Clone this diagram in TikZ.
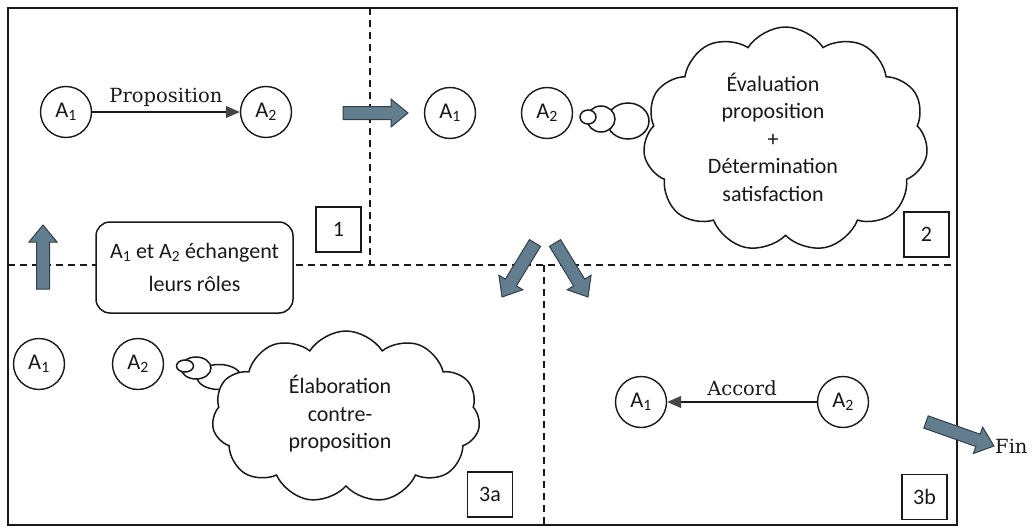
\documentclass[tikz,border=0pt]{standalone}
\usepackage{fontspec}
\setmainfont{Carlito}
\newfontfamily\slabserif{DejaVu Serif}
\usetikzlibrary{shapes.symbols,shapes.geometric,arrows.meta,calc}

\definecolor{ink}{RGB}{25,25,25}
\definecolor{tipgray}{RGB}{70,70,70}
\definecolor{arrowfill}{RGB}{98,126,142}
\definecolor{arrowedge}{RGB}{50,62,72}

% thick block arrow from coordinate #1 (tail) to coordinate #2 (tip)
\newcommand\blockarrow[2]{%
  \path ($(#2)!17pt!(#1)$) coordinate (headbase);
  \filldraw[blockarrow]
    ($(#1)!6.5pt!90:(#2)$) -- ($(headbase)!6.5pt!90:(#2)$) --
    ($(headbase)!14pt!90:(#2)$) -- (#2) --
    ($(headbase)!14pt!-90:(#2)$) -- ($(headbase)!6.5pt!-90:(#2)$) --
    ($(#1)!6.5pt!-90:(#2)$) -- cycle;
}

\tikzset{
  frame/.style={draw=ink, line width=1.6pt},
  divider/.style={draw=ink, line width=1.3pt, dash pattern=on 7pt off 5pt},
  agent/.style={circle, draw=ink, line width=1.4pt, fill=white, minimum size=51pt,
    inner sep=0pt, text=ink, font=\fontsize{22.5}{26}\selectfont},
  tag/.style={draw=ink, line width=1.4pt, fill=white, minimum width=45pt,
    minimum height=45pt, inner sep=0pt, text=ink, font=\fontsize{22}{26}\selectfont},
  message/.style={draw=ink, line width=1.1pt, -{Triangle[length=14pt,width=12pt,color=tipgray]}},
  msglabel/.style={text=ink, inner sep=1pt, font=\slabserif\fontsize{19.5}{23}\selectfont},
  thought/.style={cloud, cloud puffs=11, cloud puff arc=115, cloud ignores aspect,
    draw=ink, line width=1.5pt, fill=white, inner sep=0pt},
  bubble/.style={ellipse, draw=ink, line width=1.5pt, fill=white, inner sep=0pt},
  thoughttext/.style={align=center, text=ink, inner sep=0pt,
    font=\fontsize{22}{27.5}\selectfont},
  note/.style={draw=ink, line width=1.5pt, fill=white, rounded corners=14pt,
    minimum width=197pt, minimum height=91pt, align=center, text=ink,
    inner sep=0pt, font=\fontsize{22}{33}\selectfont},
  blockarrow/.style={fill=arrowfill, draw=arrowedge, line width=1pt, line join=miter},
}

\begin{document}
\begin{tikzpicture}[x=1pt, y=-1pt]
\useasboundingbox (0,0) rectangle (1032,527);

% outer frame and dashed phase separators
\draw[frame] (8,8) rectangle (957,525);
\draw[divider] (370,8) -- (370,265);
\draw[divider] (8,265) -- (957,265);
\draw[divider] (544,265) -- (544,525);

% ---- phase 1: proposal
\node[agent] (p1a) at (66,112) {A\textsubscript{1}};
\node[agent] (p1b) at (266,112) {A\textsubscript{2}};
\draw[message] (p1a) -- node[msglabel, above=4pt] (prop) {Proposition} (p1b);
\node[tag] (t1) at (338.5,229.5) {1};

% ---- phase 2: evaluation
\node[agent] (p2a) at (450,113) {A\textsubscript{1}};
\node[agent] (p2b) at (547,113) {A\textsubscript{2}};
\node[bubble, minimum width=42pt, minimum height=36pt] (p2e3) at (628,121) {};
\node[bubble, minimum width=28pt, minimum height=26pt] (p2e2) at (601,119) {};
\node[bubble, minimum width=16pt, minimum height=14pt] (p2e1) at (588,117) {};
\node[thought, minimum width=285pt, minimum height=225pt] (p2cloud) at (785.5,139.5) {};
\node[thoughttext] (p2text) at (773,137)
  {Évaluation\\proposition\\+\\Détermination\\satisfaction};
\node[tag] (t2) at (926.5,234.5) {2};

% ---- role swap note
\node[note] (swap) at (194.5,267.5) {A\textsubscript{1} et A\textsubscript{2} échangent\\leurs rôles};

% ---- phase 3a: counter-proposal
\node[agent] (p3a) at (39,364) {A\textsubscript{1}};
\node[agent] (p3b) at (138,364) {A\textsubscript{2}};
\node[bubble, minimum width=44pt, minimum height=25pt] (p3e3) at (219,377) {};
\node[bubble, minimum width=30pt, minimum height=22pt] (p3e2) at (196,368) {};
\node[bubble, minimum width=17pt, minimum height=12pt] (p3e1) at (185,366) {};
\node[thought, minimum width=268pt, minimum height=172pt] (p3cloud) at (346,417) {};
\node[thoughttext] (p3text) at (340,414) {Élaboration\\contre-\\proposition};
\node[tag] (t3a) at (490,494.5) {3a};

% ---- phase 3b: agreement
\node[agent] (q1) at (641,402) {A\textsubscript{1}};
\node[agent] (q2) at (843,402) {A\textsubscript{2}};
\draw[message] (q2) -- node[msglabel, above=5pt] (acc) {Accord} (q1);
\node[tag] (t3b) at (924.5,497) {3b};

% ---- transitions between phases
\coordinate (r0) at (343,113);  \coordinate (r1) at (408,113);
\coordinate (u0) at (43,289);   \coordinate (u1) at (43,225);
\coordinate (l0) at (535,243);  \coordinate (l1) at (502,297);
\coordinate (k0) at (555,243);  \coordinate (k1) at (588,297);
\coordinate (f0) at (926,422);  \coordinate (f1) at (994,446);
\blockarrow{r0}{r1}
\blockarrow{u0}{u1}
\blockarrow{l0}{l1}
\blockarrow{k0}{k1}
\blockarrow{f0}{f1}
\node[msglabel, anchor=west] (fin) at (f1) {Fin};
\end{tikzpicture}
\end{document}
